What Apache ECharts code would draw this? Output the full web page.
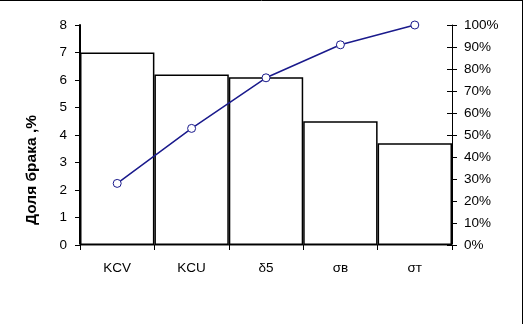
<!DOCTYPE html>
<html><head><meta charset="utf-8">
<script src="https://cdn.jsdelivr.net/npm/echarts@6/dist/echarts.min.js"></script>
<style>html,body{margin:0;padding:0;background:#fff}#c{width:526px;height:324px}</style>
</head><body><div id="c"></div>
<script>
const categories = ['KCV', 'KCU', 'δ5', 'σв', 'σт'];
const defectShare = [7.0, 6.2, 6.1, 4.5, 3.7];
const cumulativePct = [28, 53, 76, 91, 100];
const leftTicks = [0, 1, 2, 3, 4, 5, 6, 7, 8];
const rightTicks = [0, 10, 20, 30, 40, 50, 60, 70, 80, 90, 100];
const yTitle = 'Доля брака ,%';

const chart = echarts.init(document.getElementById('c'), null, {renderer: 'canvas'});
const font = 'Liberation Sans, Arial, sans-serif';
const fs = 13.5;
chart.setOption({
  animation: false,
  backgroundColor: '#fff',
  grid: {left: 80, top: 25, right: 74, bottom: 79},
  xAxis: [{
    type: 'category', data: categories, boundaryGap: true,
    axisLine: {lineStyle: {color: '#000', width: 2}},
    axisTick: {show: true, length: 5, lineStyle: {color: '#000', width: 1}},
    axisLabel: {color: '#000', fontFamily: font, fontSize: fs, margin: 16}
  }, {
    type: 'category', data: categories, position: 'top',
    axisLine: {lineStyle: {color: '#888', width: 2}},
    axisTick: {show: false}, axisLabel: {show: false}
  }],
  yAxis: [{
    type: 'value', min: 0, max: 8, interval: 1,
    axisLine: {show: true, lineStyle: {color: '#000', width: 2}},
    axisTick: {show: true, length: 5, lineStyle: {color: '#000'}},
    axisLabel: {color: '#000', fontFamily: font, fontSize: fs, margin: 13,
      formatter: v => leftTicks.includes(v) ? String(v) : ''},
    splitLine: {show: false}
  }, {
    type: 'value', min: 0, max: 100, interval: 10, position: 'right',
    axisLine: {show: true, lineStyle: {color: '#000', width: 1}},
    axisTick: {show: true, length: 5, lineStyle: {color: '#000'}},
    axisLabel: {color: '#000', fontFamily: font, fontSize: fs, margin: 12,
      formatter: v => rightTicks.includes(v) ? v + '%' : ''},
    splitLine: {show: false}
  }, {
    type: 'value', min: 0, max: 100, interval: 10, position: 'right',
    axisLine: {show: false},
    axisTick: {show: true, inside: true, length: 5, lineStyle: {color: '#000'}},
    axisLabel: {show: false}, splitLine: {show: false}
  }],
  series: [{
    type: 'bar', barWidth: '100%', barGap: '-100%',
    data: defectShare,
    itemStyle: {color: '#fff', borderColor: '#000', borderWidth: 1.5},
    z: 2
  }, {
    type: 'line', yAxisIndex: 1, data: cumulativePct,
    lineStyle: {color: '#1a1a8c', width: 1.5},
    symbol: 'circle', symbolSize: 8,
    itemStyle: {color: '#fff', borderColor: '#1a1a8c', borderWidth: 1},
    z: 5
  }],
  graphic: [
    {type: 'line', shape: {x1: 0, y1: 0.5, x2: 523, y2: 0.5}, style: {stroke: '#000', lineWidth: 1}},
    {type: 'line', shape: {x1: 522.5, y1: 0, x2: 522.5, y2: 324}, style: {stroke: '#000', lineWidth: 1}},
    {type: 'text', x: 32, y: 170, rotation: Math.PI / 2,
      style: {text: yTitle, fill: '#000', font: 'bold 15.5px Liberation Sans, Arial, sans-serif',
        textAlign: 'center', textVerticalAlign: 'middle'}}
  ]
});
</script></body></html>
